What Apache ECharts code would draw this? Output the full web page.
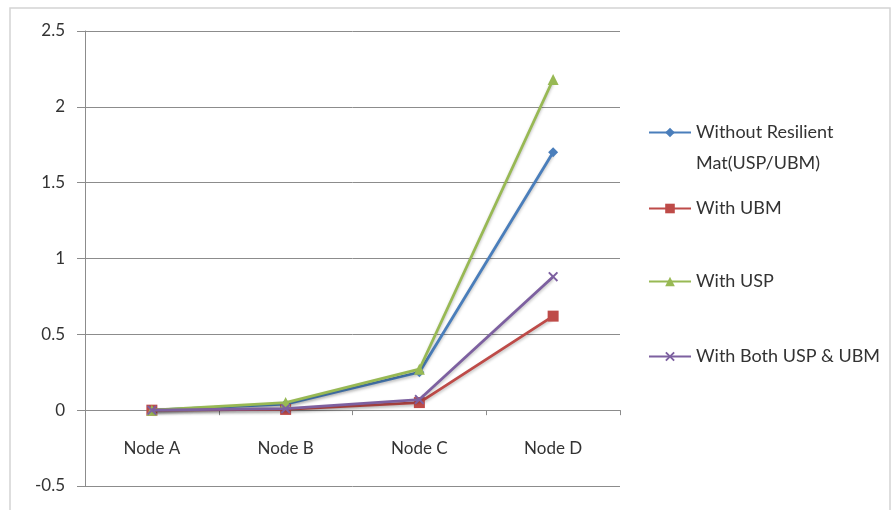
<!DOCTYPE html>
<html>
<head>
<meta charset="utf-8">
<script src="https://cdn.jsdelivr.net/npm/echarts@6/dist/echarts.min.js"></script>
<style>
  html, body { margin: 0; padding: 0; background: #ffffff; }
  #chart { width: 893px; height: 510px; }
</style>
</head>
<body>
<div id="chart"></div>
<script>
// Node labels along the track and the response at each node
const nodes = ['Node A', 'Node B', 'Node C', 'Node D'];
const withoutMat = [0, 0.04, 0.25, 1.70];
const withUBM = [0, 0.005, 0.05, 0.62];
const withUSP = [0, 0.05, 0.27, 2.18];
const withBoth = [0, 0.01, 0.07, 0.88];
const yTicks = { min: -0.5, max: 2.5, step: 0.5 };

const names = ['Without Resilient Mat(USP/UBM)', 'With UBM', 'With USP', 'With Both USP & UBM'];
const colors = ['#4a7ebb', '#be4b48', '#98b954', '#7d60a0'];
const crossPath = 'path://M0,1.4L1.4,0L5,3.6L8.6,0L10,1.4L6.4,5L10,8.6L8.6,10L5,6.4L1.4,10L0,8.6L3.6,5Z';
const symbols = ['diamond', 'rect', 'triangle', crossPath];
const symbolSizes = [10, 11, 11, 10];
const values = [withoutMat, withUBM, withUSP, withBoth];

const font = 'Lato, "Open Sans", "Liberation Sans", sans-serif';
const textColor = '#333333';
const axisColor = '#8c8c8c';
const LH = 31;
// icon centre of each legend entry
const legendCentres = [139, 215, 288, 363];

const chart = echarts.init(document.getElementById('chart'), null, { renderer: 'canvas' });

const legends = names.map((n, i) => {
  const first = i === 0;
  // first entry wraps onto two lines, with the icon level with the first line
  const boxHalf = first ? (3 * LH) / 2 : LH / 2;
  return {
    data: [n],
    orient: 'vertical',
    left: 648,
    top: legendCentres[i] - boxHalf,
    padding: 0,
    itemWidth: 42,
    itemHeight: 12,
    itemGap: 4,
    formatter: name => first
      ? '{e| }\n{t|Without Resilient}\n{t|Mat(USP/UBM)}'
      : '{t|' + name + '}',
    textStyle: {
      fontFamily: font,
      fontSize: 18,
      color: textColor,
      rich: {
        e: { lineHeight: LH, fontSize: 18, fontFamily: font },
        t: { lineHeight: LH, fontSize: 18, fontFamily: font, color: textColor }
      }
    }
  };
});

chart.setOption({
  animation: false,
  backgroundColor: '#ffffff',
  graphic: [{
    type: 'rect',
    shape: { x: 10, y: 8, width: 880, height: 520 },
    style: { fill: 'none', stroke: '#d4d4d4', lineWidth: 1.5 },
    silent: true,
    z: -1
  }],
  grid: { left: 85, top: 31, right: 273, bottom: 24, containLabel: false, outerBoundsMode: 'none' },
  legend: legends,
  xAxis: [{
    // category names, written just under the zero line
    type: 'category',
    data: nodes,
    boundaryGap: true,
    position: 'bottom',
    axisLine: { show: false, onZero: false },
    axisTick: { show: false },
    axisLabel: { margin: -46, fontFamily: font, fontSize: 17, color: textColor },
    splitLine: { show: false }
  }, {
    // the category axis line with its ticks, drawn along y = 0
    type: 'category',
    data: nodes,
    boundaryGap: true,
    position: 'bottom',
    axisLine: { show: true, onZero: true, lineStyle: { color: axisColor, width: 1 } },
    axisTick: { show: true, length: 5, lineStyle: { color: axisColor } },
    axisLabel: { show: false },
    splitLine: { show: false }
  }],
  yAxis: {
    type: 'value',
    min: yTicks.min,
    max: yTicks.max,
    interval: yTicks.step,
    axisLine: { show: true, lineStyle: { color: axisColor, width: 1 } },
    axisTick: { show: true, length: 8, lineStyle: { color: axisColor } },
    axisLabel: { margin: 20, fontFamily: font, fontSize: 17, color: textColor },
    splitLine: { show: true, lineStyle: { color: axisColor, width: 1 } }
  },
  series: names.map((n, i) => ({
    name: n,
    type: 'line',
    data: values[i],
    symbol: symbols[i],
    symbolSize: symbolSizes[i],
    showAllSymbol: true,
    color: colors[i],
    lineStyle: {
      width: 2.8,
      color: colors[i],
      shadowColor: 'rgba(0,0,0,0.25)',
      shadowBlur: 3,
      shadowOffsetY: 2
    },
    itemStyle: { color: colors[i] },
    z: 2 + i
  }))
});
</script>
</body>
</html>
